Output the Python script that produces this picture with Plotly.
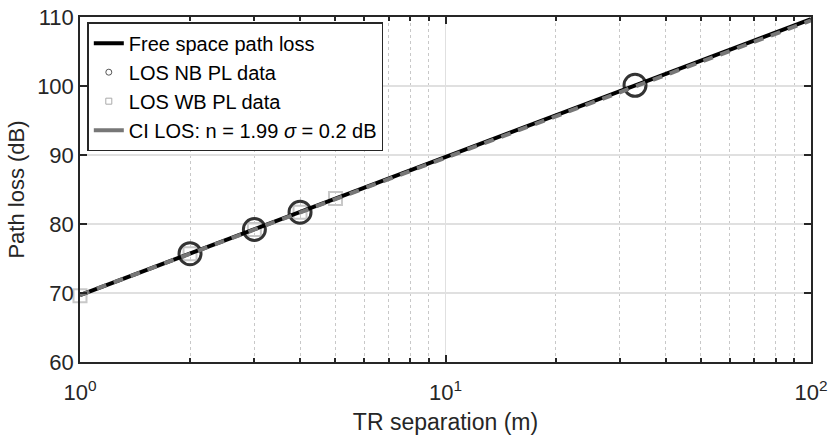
import plotly.graph_objects as go

# Data
fspl_x = [1, 100]
fspl_y = [69.7, 109.7]
ci_x = [1, 100]
ci_y = [69.7, 109.5]
nb_x = [2, 3, 4, 33]
nb_y = [75.7, 79.2, 81.7, 100.1]
wb_x = [1, 2, 3, 4, 5]
wb_y = [69.6, 75.7, 79.2, 81.7, 83.7]

x_tickvals = [1, 10, 100]
x_ticktext = ["10<sup>0</sup>", "10<sup>1</sup>", "10<sup>2</sup>"]
x_minor = [2, 3, 4, 5, 6, 7, 8, 9, 20, 30, 40, 50, 60, 70, 80, 90]
y_tickvals = [60, 70, 80, 90, 100, 110]

labels = ["Free space path loss", "LOS NB PL data", "LOS WB PL data",
          "CI LOS: n = 1.99 <i>σ</i> = 0.2 dB"]

AX = "#262626"
FONT = "Liberation Sans, Arial, sans-serif"
NB_C = "#333333"
WB_C = "#c8c8c8"
CI_C = "#777777"

fig = go.Figure()

# plotted marks (no legend)
fig.add_trace(go.Scatter(x=wb_x, y=wb_y, mode="markers", showlegend=False,
                         cliponaxis=False,
                         marker=dict(symbol="square-open", size=13, color=WB_C,
                                     line=dict(width=2, color=WB_C))))
fig.add_trace(go.Scatter(x=nb_x, y=nb_y, mode="markers", showlegend=False,
                         cliponaxis=False,
                         marker=dict(symbol="circle-open", size=22, color=NB_C,
                                     line=dict(width=3, color=NB_C))))
fig.add_trace(go.Scatter(x=fspl_x, y=fspl_y, mode="lines", showlegend=False,
                         line=dict(color="black", width=4)))
fig.add_trace(go.Scatter(x=ci_x, y=ci_y, mode="lines", showlegend=False,
                         line=dict(color=CI_C, width=4, dash="10px,8px")))

# legend entries
fig.add_trace(go.Scatter(x=[None], y=[None], mode="lines", name=labels[0],
                         line=dict(color="black", width=4)))
fig.add_trace(go.Scatter(x=[None], y=[None], mode="markers", name=labels[1],
                         marker=dict(symbol="circle-open", size=6, color="#555555",
                                     line=dict(width=1, color="#555555"))))
fig.add_trace(go.Scatter(x=[None], y=[None], mode="markers", name=labels[2],
                         marker=dict(symbol="square-open", size=6, color="#aaaaaa",
                                     line=dict(width=1, color="#aaaaaa"))))
fig.add_trace(go.Scatter(x=[None], y=[None], mode="lines", name=labels[3],
                         line=dict(color=CI_C, width=4)))

fig.update_layout(
    width=830, height=436,
    margin=dict(l=80, r=19, t=17, b=74),
    paper_bgcolor="white", plot_bgcolor="white",
    font=dict(family=FONT, color=AX, size=20),
    legend=dict(x=0.01, y=0.985, xanchor="left", yanchor="top",
                bgcolor="white", bordercolor=AX, borderwidth=1.5,
                font=dict(size=20, color="black"), tracegroupgap=0,
                itemwidth=30),
)

fig.update_xaxes(
    type="log", range=[0, 2], automargin=False,
    tickvals=x_tickvals, ticktext=x_ticktext,
    ticks="inside", ticklen=7, tickwidth=1.5, tickcolor=AX,
    showline=True, linecolor=AX, linewidth=1.5, mirror="ticks",
    showgrid=True, gridcolor="#e0e0e0", gridwidth=1,
    zeroline=False,
    tickfont=dict(size=22, color=AX),
    ticklabelstandoff=10,
    title=dict(text="TR separation (m)", font=dict(size=23, color=AX), standoff=10),
    minor=dict(tickvals=x_minor, ticks="inside", ticklen=4, tickcolor=AX,
               showgrid=True, gridcolor="#c8c8c8", griddash="dot", gridwidth=1),
)
fig.update_yaxes(
    range=[60, 110], tickvals=y_tickvals, automargin=False,
    ticks="inside", ticklen=7, tickwidth=1.5, tickcolor=AX,
    showline=True, linecolor=AX, linewidth=1.5, mirror="ticks",
    showgrid=True, gridcolor="#e0e0e0", gridwidth=1.5,
    zeroline=False,
    tickfont=dict(size=22, color=AX),
    title=dict(text="Path loss (dB)", font=dict(size=22, color=AX), standoff=6),
)

fig.write_html("out.html")
